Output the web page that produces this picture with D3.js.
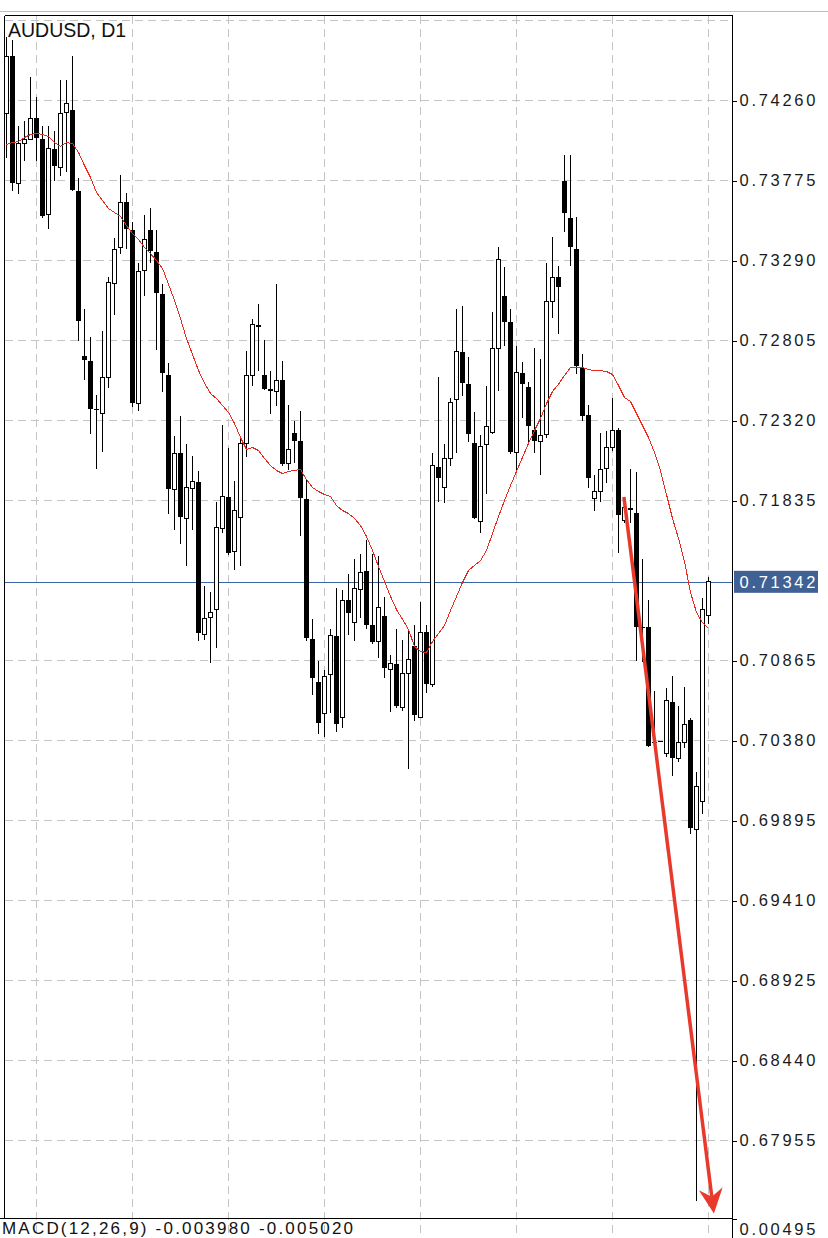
<!DOCTYPE html>
<html>
<head>
<meta charset="utf-8">
<script src="https://cdn.jsdelivr.net/npm/d3@7"></script>
<style>
  body { margin: 0; background: #fff; }
  svg { display: block; font-family: "Liberation Sans", Arial, sans-serif; }
</style>
</head>
<body>
<script>
// daily bars, oldest first
const open = [
  0.74181, 0.74527, 0.73757, 0.73999, 0.74024, 0.74151, 0.74024, 0.73569, 0.73963, 0.73854,
  0.74187, 0.74205, 0.73714, 0.72714, 0.72678, 0.72393, 0.72362, 0.72581, 0.73151, 0.73369,
  0.73642, 0.73472, 0.72423, 0.73229, 0.73472, 0.73339, 0.73084, 0.72593, 0.71902, 0.72120,
  0.71726, 0.71908, 0.71950, 0.71023, 0.71126, 0.71174, 0.71665, 0.71859, 0.71526, 0.71732,
  0.72181, 0.72593, 0.72902, 0.72593, 0.72514, 0.72496, 0.72563, 0.72059, 0.72247, 0.72193,
  0.71847, 0.70998, 0.70732, 0.70544, 0.70780, 0.71011, 0.70519, 0.71229, 0.71095, 0.71295,
  0.71405, 0.71083, 0.70980, 0.71132, 0.70810, 0.70841, 0.70580, 0.70786, 0.70950, 0.70519,
  0.71035, 0.70720, 0.72041, 0.71914, 0.72090, 0.72447, 0.72738, 0.72540, 0.72181, 0.71708,
  0.72175, 0.72247, 0.72757, 0.73072, 0.72920, 0.72126, 0.72605, 0.72526, 0.72265, 0.72193,
  0.72235, 0.73041, 0.73187, 0.73769, 0.73545, 0.73357, 0.72641, 0.72356, 0.71847, 0.71890,
  0.72029, 0.72156, 0.72265, 0.71714, 0.71792, 0.71762, 0.71071, 0.71071, 0.70374, 0.70374,
  0.70301, 0.70616, 0.70271, 0.70368, 0.70507, 0.69840, 0.70010, 0.71138
];
const high = [
  0.74642, 0.74624, 0.74108, 0.74133, 0.74405, 0.74284, 0.74108, 0.74108, 0.74078, 0.74387,
  0.74387, 0.74527, 0.73793, 0.72993, 0.72829, 0.72472, 0.72860, 0.73187, 0.73429, 0.73811,
  0.73702, 0.73526, 0.73272, 0.73563, 0.73611, 0.73472, 0.73145, 0.72666, 0.72229, 0.72350,
  0.72175, 0.72102, 0.72011, 0.71314, 0.71283, 0.71823, 0.72290, 0.72156, 0.71956, 0.72229,
  0.72744, 0.72938, 0.73029, 0.72811, 0.72623, 0.73145, 0.72678, 0.72411, 0.72314, 0.72375,
  0.71962, 0.71114, 0.70865, 0.70810, 0.71053, 0.71302, 0.71295, 0.71392, 0.71483, 0.71508,
  0.71593, 0.71508, 0.71496, 0.71247, 0.70901, 0.71059, 0.70992, 0.71041, 0.71083, 0.71217,
  0.71083, 0.72120, 0.72581, 0.72175, 0.72459, 0.72993, 0.73017, 0.72702, 0.72369, 0.72235,
  0.72532, 0.72975, 0.73369, 0.73248, 0.72999, 0.72769, 0.72672, 0.72556, 0.72757, 0.72690,
  0.73272, 0.73435, 0.73254, 0.73927, 0.73927, 0.73551, 0.72726, 0.72411, 0.71987, 0.72247,
  0.72259, 0.72459, 0.72277, 0.71859, 0.72029, 0.72005, 0.71483, 0.71229, 0.70683, 0.70380,
  0.70701, 0.70774, 0.70592, 0.70707, 0.70514, 0.70192, 0.71241, 0.71374
];
const low = [
  0.73914, 0.73714, 0.73696, 0.73896, 0.74018, 0.73896, 0.73545, 0.73484, 0.73775, 0.73805,
  0.73824, 0.73714, 0.72799, 0.72563, 0.72241, 0.72029, 0.72132, 0.72520, 0.72957, 0.73332,
  0.73357, 0.72399, 0.72375, 0.73072, 0.73272, 0.72750, 0.72490, 0.71756, 0.71659, 0.71574,
  0.71435, 0.71659, 0.70986, 0.70992, 0.70847, 0.70938, 0.71641, 0.71502, 0.71411, 0.71435,
  0.72096, 0.72532, 0.72623, 0.72502, 0.72362, 0.72405, 0.72047, 0.72017, 0.72065, 0.71617,
  0.70986, 0.70653, 0.70422, 0.70404, 0.70544, 0.70429, 0.70453, 0.71017, 0.70986, 0.71120,
  0.71059, 0.70968, 0.70883, 0.70756, 0.70550, 0.70580, 0.70556, 0.70210, 0.70501, 0.70519,
  0.70671, 0.70707, 0.71823, 0.71817, 0.72047, 0.72126, 0.72466, 0.72187, 0.71720, 0.71635,
  0.71877, 0.72241, 0.72496, 0.72769, 0.72114, 0.72017, 0.72338, 0.72181, 0.72120, 0.71987,
  0.72211, 0.72944, 0.72847, 0.73460, 0.73254, 0.72599, 0.72320, 0.71908, 0.71774, 0.71823,
  0.71944, 0.72138, 0.71514, 0.71696, 0.71696, 0.70865, 0.70853, 0.70338, 0.70338, 0.70368,
  0.70277, 0.70162, 0.70247, 0.70332, 0.69816, 0.67591, 0.69937, 0.71089
];
const close = [
  0.74527, 0.73757, 0.73999, 0.74024, 0.74151, 0.74030, 0.73557, 0.73969, 0.73860, 0.74181,
  0.74242, 0.73720, 0.72926, 0.72684, 0.72387, 0.72387, 0.72581, 0.73157, 0.73357, 0.73642,
  0.73484, 0.72429, 0.73223, 0.73417, 0.73345, 0.73090, 0.72605, 0.71902, 0.72120, 0.71732,
  0.71914, 0.71950, 0.71029, 0.71120, 0.71156, 0.71671, 0.71859, 0.71514, 0.71774, 0.72181,
  0.72593, 0.72902, 0.72884, 0.72514, 0.72496, 0.72563, 0.72059, 0.72144, 0.72193, 0.71853,
  0.71004, 0.70756, 0.70489, 0.70768, 0.71017, 0.70483, 0.71229, 0.71156, 0.71302, 0.71399,
  0.71083, 0.70980, 0.71186, 0.70817, 0.70847, 0.70592, 0.70786, 0.70871, 0.70532, 0.71035,
  0.70720, 0.72047, 0.71974, 0.72090, 0.72429, 0.72738, 0.72547, 0.72241, 0.71726, 0.72162,
  0.72284, 0.72757, 0.73296, 0.72920, 0.72132, 0.72611, 0.72540, 0.72284, 0.72193, 0.72229,
  0.73041, 0.73187, 0.73132, 0.73575, 0.73369, 0.72653, 0.72350, 0.71974, 0.71890, 0.72023,
  0.72156, 0.72259, 0.71745, 0.71792, 0.71780, 0.71071, 0.71065, 0.70344, 0.70368, 0.70374,
  0.70623, 0.70271, 0.70368, 0.70477, 0.69847, 0.70101, 0.71174, 0.71342
];
// moving average
const ma = [
  0.73993, 0.74005, 0.74011, 0.74036, 0.74054, 0.74060, 0.74054, 0.74042, 0.74005, 0.73981,
  0.74005, 0.73999, 0.73945, 0.73866, 0.73793, 0.73702, 0.73654, 0.73605, 0.73581, 0.73557,
  0.73502, 0.73454, 0.73417, 0.73369, 0.73332, 0.73290, 0.73242, 0.73145, 0.73048, 0.72938,
  0.72817, 0.72720, 0.72623, 0.72547, 0.72484, 0.72453, 0.72411, 0.72369, 0.72302, 0.72217,
  0.72144, 0.72156, 0.72138, 0.72090, 0.72047, 0.72017, 0.71999, 0.72011, 0.72017, 0.72023,
  0.71962, 0.71914, 0.71890, 0.71871, 0.71859, 0.71805, 0.71774, 0.71756, 0.71726, 0.71683,
  0.71617, 0.71532, 0.71435, 0.71344, 0.71253, 0.71174, 0.71114, 0.71053, 0.70950, 0.70920,
  0.70913, 0.70980, 0.71029, 0.71077, 0.71168, 0.71253, 0.71338, 0.71411, 0.71441, 0.71471,
  0.71532, 0.71635, 0.71738, 0.71835, 0.71926, 0.72011, 0.72096, 0.72181, 0.72259, 0.72332,
  0.72423, 0.72496, 0.72540, 0.72593, 0.72641, 0.72641, 0.72641, 0.72629, 0.72623, 0.72623,
  0.72617, 0.72599, 0.72532, 0.72459, 0.72435, 0.72362, 0.72290, 0.72217, 0.72126, 0.72017,
  0.71871, 0.71726, 0.71605, 0.71465, 0.71277, 0.71156, 0.71095, 0.71059
];

const priceTicks = [0.74260, 0.73775, 0.73290, 0.72805, 0.72320, 0.71835,
                    0.70865, 0.70380, 0.69895, 0.69410, 0.68925, 0.68440, 0.67955];
const gridPrices = [0.74745, 0.74260, 0.73775, 0.73290, 0.72805, 0.72320, 0.71835,
                    0.70865, 0.70380, 0.69895, 0.69410, 0.68925, 0.68440, 0.67955];
const gridBars = [5, 21, 37, 53, 69, 85, 101, 117];
const lastPrice = 0.71342;
const arrowFrom = {bar: 102.9, price: 0.71856};
const arrowTo = {bar: 117.9, price: 0.67512};
const title = "AUDUSD, D1";
const macdText = "MACD(12,26,9) -0.003980 -0.005020";
const macdTick = "0.00495";

const W = 828, H = 1238;
const pane = {left: 4.5, right: 732.5, top: 15.5, bottom: 1218.5};

const x = d3.scaleLinear().domain([0, 117]).range([6.5, 708.5]);
const y = d3.scaleLinear().domain([0.67955, 0.74260]).range([1140.5, 100.5]);

const svg = d3.select("body").append("svg")
  .attr("width", W).attr("height", H);

// top strip line
svg.append("line").attr("x1", 0).attr("x2", W).attr("y1", 11.5).attr("y2", 11.5)
  .attr("stroke", "#bdbdbd");

// grid
const grid = svg.append("g").attr("stroke", "#c4c4c4").attr("stroke-dasharray", "8,5")
  .attr("shape-rendering", "crispEdges");
grid.selectAll(".h").data(gridPrices).enter().append("line")
  .attr("x1", pane.left).attr("x2", pane.right)
  .attr("y1", d => y(d)).attr("y2", d => y(d));
grid.selectAll(".v").data(gridBars).enter().append("line")
  .attr("x1", d => x(d)).attr("x2", d => x(d))
  .attr("y1", pane.top).attr("y2", H);

// current price line
svg.append("line").attr("x1", pane.left).attr("x2", pane.right)
  .attr("y1", Math.round(y(lastPrice)) + 0.5).attr("y2", Math.round(y(lastPrice)) + 0.5)
  .attr("stroke", "#3a64a8").attr("shape-rendering", "crispEdges");

// candles
const bars = d3.range(open.length);
const cg = svg.append("g").attr("shape-rendering", "crispEdges");
cg.selectAll(".wick").data(bars).enter().append("line")
  .attr("x1", i => x(i)).attr("x2", i => x(i))
  .attr("y1", i => y(high[i])).attr("y2", i => y(low[i]))
  .attr("stroke", "#000");

bars.forEach(i => {
  const yo = y(open[i]), yc = y(close[i]);
  const top = Math.min(yo, yc), h = Math.abs(yo - yc);
  if (h < 1.2) {
    cg.append("line").attr("x1", x(i) - 2.5).attr("x2", x(i) + 2.5)
      .attr("y1", yc).attr("y2", yc).attr("stroke", "#000");
  } else if (close[i] > open[i]) {
    cg.append("rect").attr("x", x(i) - 2).attr("width", 4)
      .attr("y", top).attr("height", h)
      .attr("fill", "#fff").attr("stroke", "#000");
  } else {
    cg.append("rect").attr("x", x(i) - 2.5).attr("width", 5)
      .attr("y", top).attr("height", h).attr("fill", "#000");
  }
});

// moving average
svg.append("path").datum(ma)
  .attr("d", d3.line().x((d, i) => x(i)).y(d => y(d)))
  .attr("fill", "none").attr("stroke", "#e8291f").attr("stroke-width", 1)
  .attr("shape-rendering", "crispEdges");

// pane frame
const frame = svg.append("g").attr("stroke", "#000").attr("shape-rendering", "crispEdges");
frame.append("line").attr("x1", pane.left).attr("x2", pane.right)
  .attr("y1", pane.top).attr("y2", pane.top);
frame.append("line").attr("x1", pane.left).attr("x2", pane.left)
  .attr("y1", pane.top).attr("y2", pane.bottom);
frame.append("line").attr("x1", 0).attr("x2", pane.right)
  .attr("y1", pane.bottom).attr("y2", pane.bottom);
frame.append("line").attr("x1", pane.right).attr("x2", pane.right)
  .attr("y1", pane.top).attr("y2", H);

// price axis
const axis = d3.axisRight(y).tickValues(priceTicks).tickSize(4).tickPadding(3)
  .tickFormat(d3.format(".5f"));
const ag = svg.append("g").attr("transform", `translate(${pane.right},0)`).call(axis);
ag.select(".domain").remove();
ag.selectAll("line").attr("stroke", "#000").attr("shape-rendering", "crispEdges");
ag.selectAll("text").attr("font-size", "16.5px").attr("letter-spacing", "2.7px")
  .attr("fill", "#1a1a1a").attr("font-family", "'Liberation Sans', Arial, sans-serif");

// last price tag
const tagY = y(lastPrice);
svg.append("rect").attr("x", 734).attr("y", tagY - 11).attr("width", 84).attr("height", 22)
  .attr("fill", "#3f6194");
svg.append("text").attr("x", 739.5).attr("y", tagY).attr("dy", "0.35em")
  .attr("font-size", "16.5px").attr("letter-spacing", "2.7px").attr("fill", "#fff")
  .text(d3.format(".5f")(lastPrice));

// arrow
const ax0 = x(arrowFrom.bar), ay0 = y(arrowFrom.price);
const ax1 = x(arrowTo.bar), ay1 = y(arrowTo.price);
const len = Math.hypot(ax1 - ax0, ay1 - ay0);
const ux = (ax1 - ax0) / len, uy = (ay1 - ay0) / len;
const nx = -uy, ny = ux;
const back = 25, side = 12, notch = 17;
svg.append("line")
  .attr("x1", ax0).attr("y1", ay0)
  .attr("x2", ax1 - ux * notch).attr("y2", ay1 - uy * notch)
  .attr("stroke", "#e8392b").attr("stroke-width", 3.5);
svg.append("path")
  .attr("d", `M${ax1},${ay1}`
    + `L${ax1 - ux * back + nx * side},${ay1 - uy * back + ny * side}`
    + `L${ax1 - ux * notch},${ay1 - uy * notch}`
    + `L${ax1 - ux * back - nx * side},${ay1 - uy * back - ny * side}Z`)
  .attr("fill", "#e8392b");

// texts
svg.append("text").attr("x", 8).attr("y", 37).attr("font-size", "19.5px")
  .attr("fill", "#111").text(title);
svg.append("text").attr("x", 2).attr("y", 1233.5).attr("font-size", "17px")
  .attr("letter-spacing", "2.2px").attr("fill", "#111").text(macdText);
svg.append("line").attr("x1", pane.right).attr("x2", pane.right + 4)
  .attr("y1", pane.bottom + 1).attr("y2", pane.bottom + 1)
  .attr("stroke", "#000").attr("shape-rendering", "crispEdges");
svg.append("text").attr("x", 739.5).attr("y", 1229).attr("dy", "0.35em")
  .attr("font-size", "16.5px").attr("letter-spacing", "2.7px").attr("fill", "#1a1a1a")
  .text(macdTick);
</script>
</body>
</html>
